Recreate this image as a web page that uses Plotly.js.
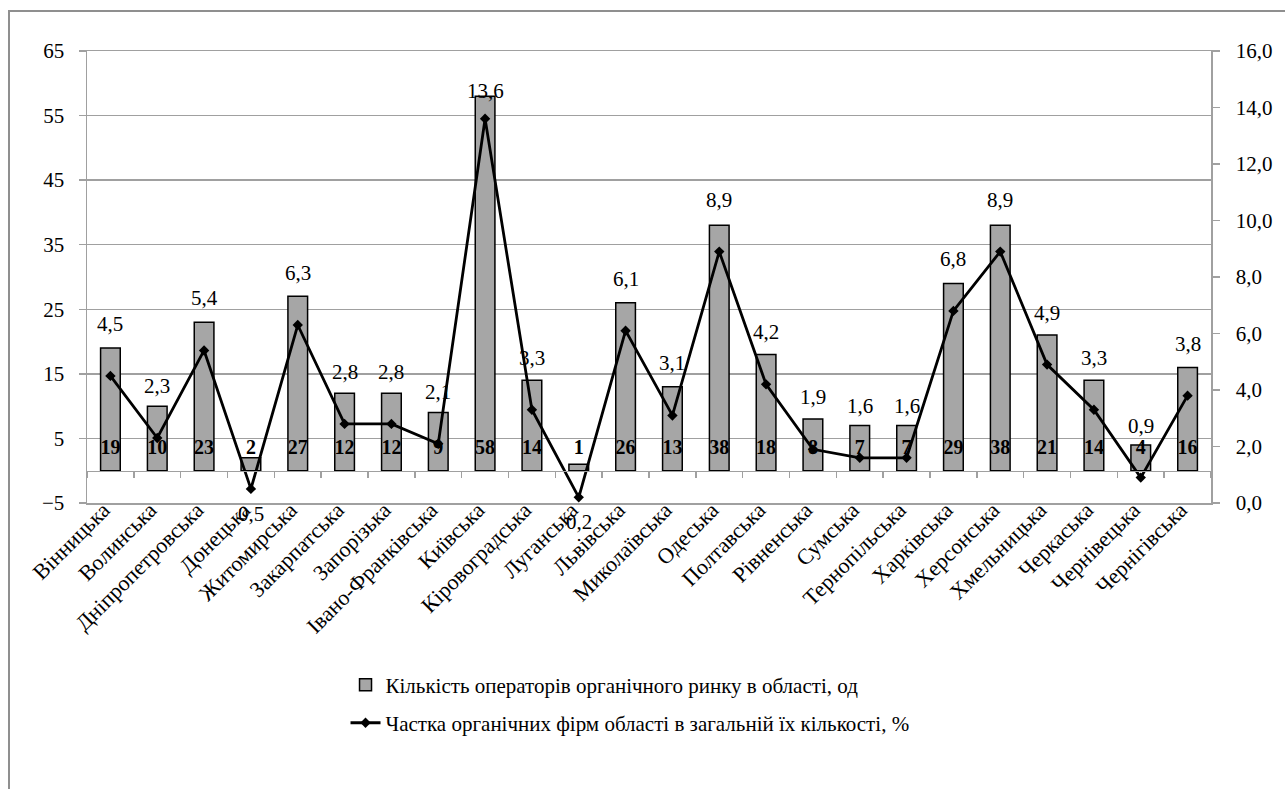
<!DOCTYPE html>
<html>
<head>
<meta charset="utf-8">
<script src="https://cdn.plot.ly/plotly-3.0.1.min.js"></script>
<style>
  html, body { margin: 0; padding: 0; background: #fff; }
  #frame { position: absolute; left: 8px; top: 10px; width: 1300px; height: 800px;
           border-left: 2px solid #8f8f8f; border-top: 2px solid #8f8f8f; pointer-events: none; }
  #chart { position: absolute; left: 0; top: 0; width: 1285px; height: 789px; }
</style>
</head>
<body>
<div id="chart"></div>
<div id="frame"></div>
<script>
// ---- data ----
const regions = ["Вінницька","Волинська","Дніпропетровська","Донецька","Житомирська","Закарпатська",
  "Запорізька","Івано-Франківська","Київська","Кіровоградська","Луганська","Львівська",
  "Миколаївська","Одеська","Полтавська","Рівненська","Сумська","Тернопільська",
  "Харківська","Херсонська","Хмельницька","Черкаська","Чернівецька","Чернігівська"];
const operators = [19,10,23,2,27,12,12,9,58,14,1,26,13,38,18,8,7,7,29,38,21,14,4,16];
const sharePct = [4.5,2.3,5.4,0.5,6.3,2.8,2.8,2.1,13.6,3.3,0.2,6.1,3.1,8.9,4.2,1.9,1.6,1.6,6.8,8.9,4.9,3.3,0.9,3.8];
const leftTicks = [-5,5,15,25,35,45,55,65];
const rightTicks = [0,2,4,6,8,10,12,14,16];
const barName = "Кількість операторів органічного ринку в області, од";
const lineName = "Частка органічних фірм області в загальній їх кількості, %";

// ---- styles ----
const FONT = "'Liberation Serif', 'Times New Roman', serif";
const GRID = "#a0a0a0";
const BAR_LABEL_Y = 3.3;
const fmt = v => v.toFixed(1).replace('.', ',');

const traces = [
  {
    type: 'bar', x: regions, y: operators, name: barName, width: 0.42,
    marker: { color: '#a6a6a6', line: { color: '#000', width: 1.5 } },
    legend: 'legend', hoverinfo: 'skip'
  },
  {
    type: 'scatter', mode: 'text', x: regions, y: operators.map(() => BAR_LABEL_Y),
    text: operators.map(String), texttemplate: '<b>%{text}</b>',
    textfont: { family: FONT, size: 20, color: '#000' }, textposition: 'middle center',
    xaxis: 'x2', yaxis: 'y', showlegend: false, hoverinfo: 'skip'
  },
  {
    type: 'scatter', mode: 'lines+markers', x: regions, y: sharePct, name: lineName,
    yaxis: 'y2', line: { color: '#000', width: 2.8 },
    marker: { symbol: 'diamond', size: 8, color: '#000' },
    legend: 'legend2', hoverinfo: 'skip'
  }
];

const annotations = sharePct.map((v, i) => ({
  x: regions[i], y: v, xref: 'x', yref: 'y2', text: fmt(v), showarrow: false,
  font: { family: FONT, size: 21, color: '#000' },
  yshift: v > 13 ? 28 : (v < 0.6 ? -25 : 52)
}));

const layout = {
  width: 1285, height: 789,
  margin: { l: 87, r: 74, t: 51, b: 286 },
  paper_bgcolor: '#fff', plot_bgcolor: '#fff',
  separators: ', ',
  font: { family: FONT, size: 20, color: '#000' },
  showlegend: true,
  xaxis: {
    type: 'category', range: [-0.5, regions.length - 0.5],
    showline: true, linecolor: GRID, linewidth: 1.5, mirror: true,
    showgrid: false, ticks: '', tickangle: -45, ticklabelstandoff: -16, ticklabelshift: -7,
    tickfont: { family: FONT, size: 22, color: '#000' }
  },
  xaxis2: {
    type: 'category', overlaying: 'x', anchor: 'free', position: 5 / 70,
    range: [-0.5, regions.length - 0.5], matches: 'x',
    showline: true, linecolor: GRID, linewidth: 1.5, showgrid: false,
    ticks: 'outside', tickson: 'boundaries', ticklen: 6, tickcolor: GRID, tickwidth: 1.5,
    showticklabels: false
  },
  yaxis: {
    range: [-5, 65], tickmode: 'array', tickvals: leftTicks,
    showline: true, linecolor: GRID, linewidth: 1.5,
    showgrid: true, gridcolor: GRID, gridwidth: 1.5, zeroline: false,
    ticks: 'outside', ticklen: 7, tickcolor: GRID, tickwidth: 1.5,
    tickfont: { family: FONT, size: 21, color: '#000' }, ticklabelstandoff: 10
  },
  yaxis2: {
    overlaying: 'y', side: 'right', range: [0, 16], tickmode: 'array', tickvals: rightTicks,
    tickformat: '.1f', showline: true, linecolor: GRID, linewidth: 1.5,
    showgrid: false, zeroline: false,
    ticks: 'outside', ticklen: 7, tickcolor: GRID, tickwidth: 1.5,
    tickfont: { family: FONT, size: 21, color: '#000' }, ticklabelstandoff: 12
  },
  legend: {
    x: 0.23, xanchor: 'left', y: -0.403, yanchor: 'middle', orientation: 'v',
    bgcolor: 'rgba(0,0,0,0)', font: { family: FONT, size: 21, color: '#000' }
  },
  legend2: {
    x: 0.23, xanchor: 'left', y: -0.487, yanchor: 'middle', orientation: 'v',
    bgcolor: 'rgba(0,0,0,0)', font: { family: FONT, size: 21, color: '#000' }
  },
  annotations: annotations
};

Plotly.newPlot('chart', traces, layout, { displayModeBar: false, staticPlot: true });
</script>
</body>
</html>
